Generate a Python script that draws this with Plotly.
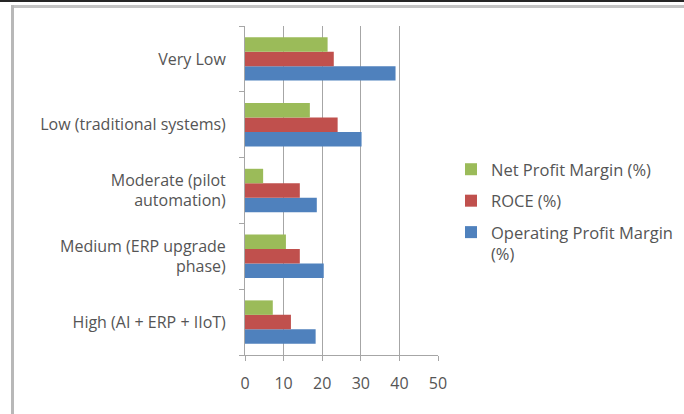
import plotly.graph_objects as go

# Automation maturity levels (bottom to top on the chart)
categories = [
    "High (AI + ERP + IIoT)",
    "Medium (ERP upgrade<br>phase)",
    "Moderate (pilot<br>automation)",
    "Low (traditional systems)",
    "Very Low",
]

operating_margin = [18.3, 20.4, 18.6, 30.2, 39.0]
roce = [11.9, 14.2, 14.2, 24.0, 23.0]
net_margin = [7.2, 10.6, 4.7, 16.8, 21.4]

x_ticks = [0, 10, 20, 30, 40, 50]

# (legend name, values, colour, legend rank)
series = [
    ("Operating Profit Margin<br>(%)", operating_margin, "#4F81BD", 3),
    ("ROCE (%)", roce, "#C0504D", 2),
    ("Net Profit Margin (%)", net_margin, "#9BBB59", 1),
]

W, H = 684, 414
L, R, T, B = 245, 246, 26, 59
pw = W - L - R
ph = H - T - B

fig = go.Figure()
for i, (name, vals, color, rank) in enumerate(series):
    fig.add_trace(go.Bar(
        y=categories, x=vals, orientation="h", name=name,
        marker=dict(color=color, line=dict(width=0)),
        legendgroup=f"g{rank}", legendrank=rank,
    ))

def px_x(p):
    return (p - L) / pw

def px_y(p):
    return 1 - (p - T) / ph

shapes = [
    # top rule of the page
    dict(type="line", xref="paper", yref="paper", x0=px_x(0), x1=px_x(W),
         y0=px_y(1), y1=px_y(1), line=dict(color="#262626", width=2)),
    # chart frame: top and left edges
    dict(type="line", xref="paper", yref="paper", x0=px_x(11), x1=px_x(W),
         y0=px_y(6.5), y1=px_y(6.5), line=dict(color="#c4c4c4", width=3)),
    dict(type="line", xref="paper", yref="paper", x0=px_x(12.5), x1=px_x(12.5),
         y0=px_y(5), y1=px_y(H), line=dict(color="#b8b8b8", width=3)),
]

fig.update_layout(
    width=W, height=H,
    margin=dict(l=L, r=R, t=T, b=B, autoexpand=False),
    paper_bgcolor="white", plot_bgcolor="white",
    barmode="group", bargap=0.34, bargroupgap=0,
    font=dict(family="Open Sans, Liberation Sans, sans-serif", color="#555555", size=13),
    shapes=shapes,
    showlegend=True,
    legend=dict(
        x=px_x(451), y=px_y(152), xanchor="left", yanchor="top",
        traceorder="grouped", tracegroupgap=7, valign="top",
        font=dict(size=16.5, color="#555555"),
        itemwidth=30, bgcolor="rgba(0,0,0,0)",
    ),
    xaxis=dict(
        range=[0, 50], tickvals=x_ticks, ticktext=[str(v) for v in x_ticks],
        showgrid=True, gridcolor="#a6a6a6", gridwidth=1,
        showline=True, linecolor="#a6a6a6", linewidth=1,
        ticks="outside", ticklen=5, tickcolor="#a6a6a6",
        ticklabelstandoff=9, zeroline=False,
        tickfont=dict(size=16, color="#555555"),
        fixedrange=True,
    ),
    yaxis=dict(
        type="category", categoryorder="array", categoryarray=categories,
        showline=True, linecolor="#a6a6a6", linewidth=1,
        ticks="outside", ticklen=5, tickcolor="#a6a6a6", tickson="boundaries",
        ticklabelstandoff=15, showgrid=False,
        tickfont=dict(size=16, color="#555555"),
        fixedrange=True,
    ),
)

fig.write_html("out.html")
